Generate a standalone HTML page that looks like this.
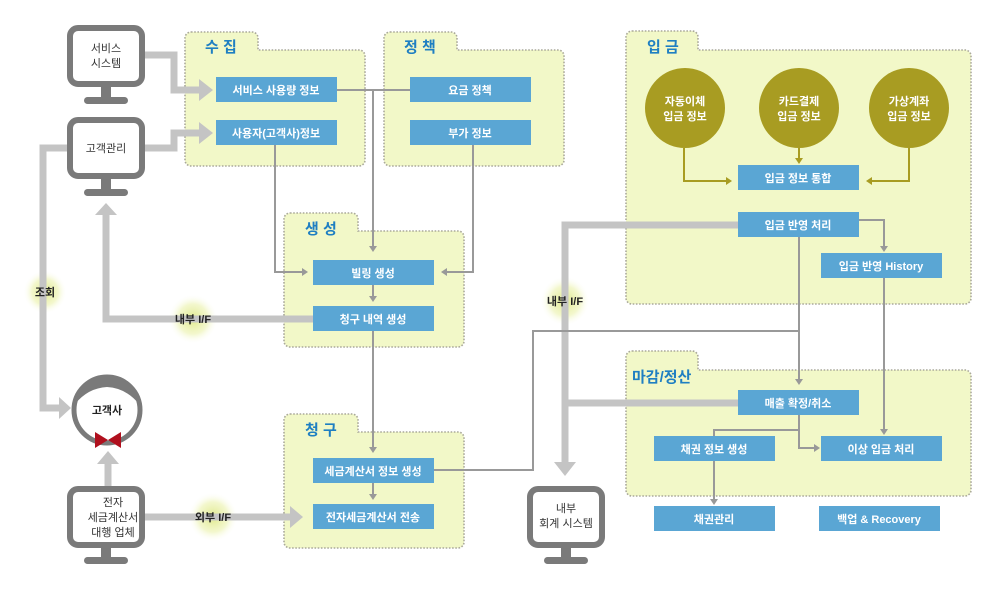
<!DOCTYPE html>
<html><head><meta charset="utf-8"><style>
body{margin:0;background:#fff}
svg{display:block;font-family:"Liberation Sans","Noto Sans CJK KR","NanumGothic",sans-serif}
.bx{fill:#5aa6d4}
.bt{fill:#fff;font-size:11px;font-weight:bold;text-anchor:middle}
.fd{fill:#f2f8c8;stroke:#aaa99a;stroke-width:1.6;stroke-dasharray:1.6 1.6}
.ft{fill:#1f7fc2;font-size:15px;font-weight:bold}
.th{stroke:#c4c4c4;stroke-width:7;fill:none}
.tn{stroke:#999;stroke-width:2;fill:none}
.ol{stroke:#a89c22;stroke-width:2;fill:none}
.mt{fill:#333;font-size:11px;text-anchor:middle}
.lb{fill:#222;font-size:11px;font-weight:bold;text-anchor:middle}
</style></head><body>
<svg width="990" height="600" viewBox="0 0 990 600">
<defs>
<radialGradient id="g"><stop offset="0" stop-color="#dfe88a"/><stop offset="0.6" stop-color="#eef4b8" stop-opacity="0.7"/><stop offset="1" stop-color="#fff" stop-opacity="0"/></radialGradient>
</defs>
<!-- folders -->
<path class="fd" d="M191,32h61a6,6 0 0 1 6,6v12h101a6,6 0 0 1 6,6v104a6,6 0 0 1 -6,6h-168a6,6 0 0 1 -6,-6v-122a6,6 0 0 1 6,-6z"/>
<text class="ft" x="205" y="52">수 집</text>
<path class="fd" d="M390,32h61a6,6 0 0 1 6,6v12h101a6,6 0 0 1 6,6v104a6,6 0 0 1 -6,6h-168a6,6 0 0 1 -6,-6v-122a6,6 0 0 1 6,-6z"/>
<text class="ft" x="404" y="52">정 책</text>
<path class="fd" d="M290,213h62a6,6 0 0 1 6,6v12h100a6,6 0 0 1 6,6v104a6,6 0 0 1 -6,6h-168a6,6 0 0 1 -6,-6v-122a6,6 0 0 1 6,-6z"/>
<text class="ft" x="305" y="234">생 성</text>
<path class="fd" d="M290,414h62a6,6 0 0 1 6,6v12h100a6,6 0 0 1 6,6v104a6,6 0 0 1 -6,6h-168a6,6 0 0 1 -6,-6v-122a6,6 0 0 1 6,-6z"/>
<text class="ft" x="305" y="435">청 구</text>
<path class="fd" d="M632,31h60a6,6 0 0 1 6,6v13h267a6,6 0 0 1 6,6v242a6,6 0 0 1 -6,6h-333a6,6 0 0 1 -6,-6v-261a6,6 0 0 1 6,-6z"/>
<text class="ft" x="647" y="52">입 금</text>
<path class="fd" d="M632,351h60a6,6 0 0 1 6,6v13h267a6,6 0 0 1 6,6v114a6,6 0 0 1 -6,6h-333a6,6 0 0 1 -6,-6v-133a6,6 0 0 1 6,-6z"/>
<text class="ft" x="632" y="382">마감/정산</text>

<!-- glows -->
<circle cx="45" cy="292" r="22" fill="url(#g)"/>
<circle cx="193" cy="319" r="25" fill="url(#g)"/>
<circle cx="213" cy="517" r="25" fill="url(#g)"/>
<circle cx="565" cy="301" r="25" fill="url(#g)"/>

<!-- thick lines -->
<path class="th" d="M145,55H174V90H203"/><polygon points="199,79 213,90 199,101" fill="#c4c4c4"/>
<path class="th" d="M145,148H174V133H203"/><polygon points="199,122 213,133 199,144" fill="#c4c4c4"/>
<path class="th" d="M313,319H106V210"/><polygon points="95,215 106,203 117,215" fill="#c4c4c4"/>
<path class="th" d="M67,148H43V408H62"/><polygon points="59,397 71,408 59,419" fill="#c4c4c4"/>
<path class="th" d="M108,486V462"/><polygon points="97,464 108,451 119,464" fill="#c4c4c4"/>
<path class="th" d="M145,517H292"/><polygon points="290,506 303,517 290,528" fill="#c4c4c4"/>
<path class="th" d="M738,225H565V465"/><path class="th" d="M738,403H565"/><polygon points="554,462 565,476 576,462" fill="#c4c4c4"/>

<!-- thin lines -->
<g class="tn">
<path d="M337,90H410"/><path d="M373,90V247"/>
<path d="M275,145V272H302"/><path d="M473,145V272H446"/>
<path d="M373,285V297"/><path d="M373,331V448"/><path d="M373,483V495"/>
<path d="M434,470H533V331H799"/>
<path d="M799,237V380"/><path d="M859,220H884V247"/><path d="M884,278V430"/>
<path d="M799,415V448H815"/><path d="M799,430H714V440"/><path d="M714,461V500"/>
</g>
<g fill="#999">
<polygon points="369,246 373,252 377,246"/><polygon points="302,268 308,272 302,276"/><polygon points="447,268 441,272 447,276"/>
<polygon points="369,296 373,302 377,296"/><polygon points="369,447 373,453 377,447"/><polygon points="369,494 373,500 377,494"/>
<polygon points="880,246 884,252 888,246"/><polygon points="795,379 799,385 803,379"/><polygon points="880,429 884,435 888,429"/>
<polygon points="814,444 820,448 814,452"/><polygon points="710,439 714,445 718,439"/><polygon points="710,499 714,505 718,499"/>
</g>
<!-- olive -->
<path class="ol" d="M684,148V181H726"/><polygon points="726,177 732,181 726,185" fill="#a89c22"/>
<path class="ol" d="M799,148V158"/><polygon points="795,158 799,164 803,158" fill="#a89c22"/>
<path class="ol" d="M909,148V181H872"/><polygon points="872,177 866,181 872,185" fill="#a89c22"/>
<circle cx="685" cy="108" r="40" fill="#a89c22"/><circle cx="799" cy="108" r="40" fill="#a89c22"/><circle cx="909" cy="108" r="40" fill="#a89c22"/>
<g class="bt"><text x="685" y="105">자동이체</text><text x="685" y="120">입금 정보</text>
<text x="799" y="105">카드결제</text><text x="799" y="120">입금 정보</text>
<text x="909" y="105">가상계좌</text><text x="909" y="120">입금 정보</text></g>

<!-- boxes -->
<rect class="bx" x="216" y="77" width="121" height="25"/><text class="bt" x="276" y="94">서비스 사용량 정보</text>
<rect class="bx" x="216" y="120" width="121" height="25"/><text class="bt" x="276" y="137">사용자(고객사)정보</text>
<rect class="bx" x="410" y="77" width="121" height="25"/><text class="bt" x="470" y="94">요금 정책</text>
<rect class="bx" x="410" y="120" width="121" height="25"/><text class="bt" x="470" y="137">부가 정보</text>
<rect class="bx" x="313" y="260" width="121" height="25"/><text class="bt" x="373" y="277">빌링 생성</text>
<rect class="bx" x="313" y="306" width="121" height="25"/><text class="bt" x="373" y="323">청구 내역 생성</text>
<rect class="bx" x="313" y="458" width="121" height="25"/><text class="bt" x="373" y="475">세금계산서 정보 생성</text>
<rect class="bx" x="313" y="504" width="121" height="25"/><text class="bt" x="373" y="521">전자세금계산서 전송</text>
<rect class="bx" x="738" y="165" width="121" height="25"/><text class="bt" x="798" y="182">입금 정보 통합</text>
<rect class="bx" x="738" y="212" width="121" height="25"/><text class="bt" x="798" y="229">입금 반영 처리</text>
<rect class="bx" x="821" y="253" width="121" height="25"/><text class="bt" x="881" y="270">입금 반영 History</text>
<rect class="bx" x="738" y="390" width="121" height="25"/><text class="bt" x="798" y="407">매출 확정/취소</text>
<rect class="bx" x="654" y="436" width="121" height="25"/><text class="bt" x="714" y="453">채권 정보 생성</text>
<rect class="bx" x="821" y="436" width="121" height="25"/><text class="bt" x="881" y="453">이상 입금 처리</text>
<rect class="bx" x="654" y="506" width="121" height="25"/><text class="bt" x="714" y="523">채권관리</text>
<rect class="bx" x="819" y="506" width="121" height="25"/><text class="bt" x="879" y="523">백업 &amp; Recovery</text>

<!-- monitors -->
<g fill="#7a7a7a">
<rect x="101" y="87" width="10" height="10"/><rect x="84" y="97" width="44" height="7" rx="3.5"/>
<rect x="101" y="179" width="10" height="10"/><rect x="84" y="189" width="44" height="7" rx="3.5"/>
<rect x="101" y="547" width="10" height="10"/><rect x="84" y="557" width="44" height="7" rx="3.5"/>
<rect x="561" y="547" width="10" height="10"/><rect x="544" y="557" width="44" height="7" rx="3.5"/>
</g>
<g fill="#fff" stroke="#7a7a7a" stroke-width="6">
<rect x="70" y="28" width="72" height="56" rx="8"/>
<rect x="70" y="120" width="72" height="56" rx="8"/>
<rect x="70" y="489" width="72" height="56" rx="8"/>
<rect x="530" y="489" width="72" height="56" rx="8"/>
</g>
<text class="mt" x="106" y="52">서비스</text><text class="mt" x="106" y="67">시스템</text>
<text class="mt" x="106" y="152">고객관리</text>
<text class="mt" x="113" y="506">전자</text><text class="mt" x="113" y="521">세금계산서</text><text class="mt" x="113" y="536">대행 업체</text>
<text class="mt" x="566" y="512">내부</text><text class="mt" x="566" y="527">회계 시스템</text>

<!-- face -->
<circle cx="107" cy="410" r="33" fill="#fff" stroke="#7a7a7a" stroke-width="5"/>
<path d="M75,404 Q88,388 107,387 Q126,388 139,404 A33,33 0 0 0 75,404z" fill="#7a7a7a"/>
<text class="mt" x="107" y="414" style="font-weight:bold;fill:#222">고객사</text>
<polygon points="95,432 108,440 95,448" fill="#b0101e"/><polygon points="121,432 108,440 121,448" fill="#b0101e"/>

<!-- labels -->
<text class="lb" x="45" y="296">조회</text>
<text class="lb" x="193" y="323">내부 I/F</text>
<text class="lb" x="213" y="521">외부 I/F</text>
<text class="lb" x="565" y="305">내부 I/F</text>
</svg>
</body></html>
